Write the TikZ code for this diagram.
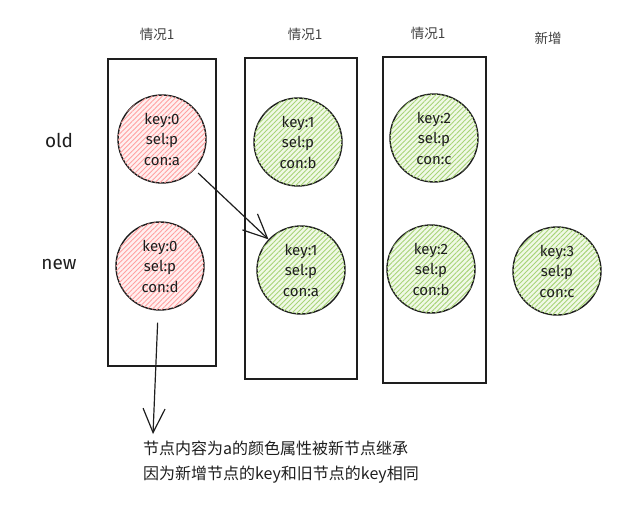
\documentclass[tikz,border=0pt]{standalone}
\usepackage{fontspec}
\setmainfont{Noto Sans CJK SC}
\newfontfamily\latinf{Fira Sans}
\usetikzlibrary{patterns.meta,arrows.meta}
\definecolor{redhatch}{HTML}{FFA0A0}
\definecolor{redbase}{HTML}{FFF0F0}
\definecolor{greenhatch}{HTML}{A8D478}
\definecolor{greenbase}{HTML}{F0F9E6}
\definecolor{ink}{HTML}{1E1E1E}
\tikzset{
  colbox/.style={draw=ink, line width=1.3pt},
  keynode/.style={circle, draw=ink, line width=1.4pt, minimum size=88pt, inner sep=0pt,
    align=center, font=\latinf\fontsize{15}{20.5}\selectfont, text=ink},
  oldred/.style={keynode, fill=redbase, postaction={pattern={Lines[angle=45,distance=3.5pt,line width=0.9pt]}, pattern color=redhatch}},
  greenc/.style={keynode, fill=greenbase, postaction={pattern={Lines[angle=45,distance=3.5pt,line width=0.9pt]}, pattern color=greenhatch}},
  head/.style={font=\fontsize{13.5}{15}\selectfont, text=ink!85},
  rowlab/.style={font=\latinf\fontsize{19}{21}\selectfont, text=ink},
  conn/.style={draw=ink, line width=1.2pt, -{Straight Barb[length=24pt,width=22pt,line width=1.2pt]}},
  note/.style={font=\fontsize{16}{25}\selectfont, align=left, anchor=north west, inner sep=0pt, text=ink}
}
\begin{document}
\begin{tikzpicture}[x=1pt,y=-1pt]
\useasboundingbox (0,0) rectangle (633,506);
% headers
\node[head] (h1) at (157,34) {情况1};
\node[head] (h2) at (305,34) {情况1};
\node[head] (h3) at (428,33) {情况1};
\node[head] (h4) at (548,38) {新增};
% row labels
\node[rowlab] (lold) at (59,140) {old};
\node[rowlab] (lnew) at (59,264) {new};
% boxes
\draw[colbox] (108,59) rectangle (216,366);
\draw[colbox] (245,58) rectangle (357,379);
\draw[colbox] (383,57) rectangle (486,383);
% circles
\node[oldred] (r0) at (162,139) {key:0\\sel:p\\con:a};
\node[oldred] (r0n) at (160,266) {key:0\\sel:p\\con:d};
\node[greenc] (g1) at (298,142) {key:1\\sel:p\\con:b};
\node[greenc] (g2) at (434,138) {key:2\\sel:p\\con:c};
\node[greenc] (g1n) at (301,270) {key:1\\sel:p\\con:a};
\node[greenc] (g2n) at (431,269) {key:2\\sel:p\\con:b};
\node[greenc] (g3n) at (557,271) {key:3\\sel:p\\con:c};
% note
\node[note] (txt) at (143,441) {节点内容为a的颜色属性被新节点继承\\因为新增节点的key和旧节点的key相同};
\coordinate (tip) at (153,434);
% connectors
\draw[conn, shorten <=5pt] (r0) -- (g1n);
\draw[conn, shorten <=12pt] (r0n) -- (tip);
\end{tikzpicture}
\end{document}
